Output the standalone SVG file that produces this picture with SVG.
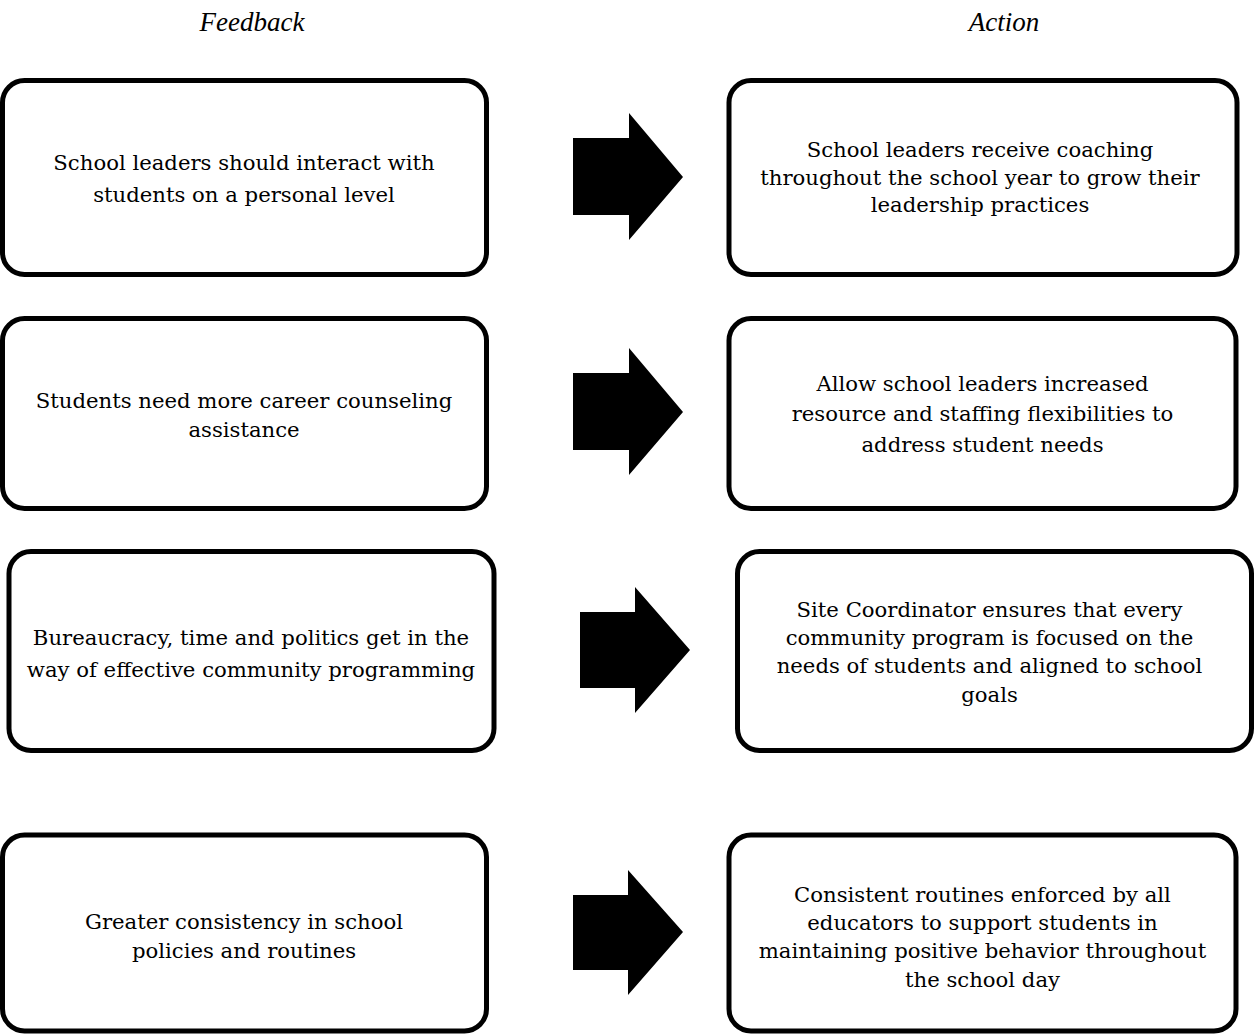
<svg xmlns="http://www.w3.org/2000/svg" width="1257" height="1036" viewBox="0 0 1257 1036">
<style>
.box{fill:#fff;stroke:#000;stroke-width:5}
.t{font-family:"DejaVu Serif","Liberation Serif",serif;font-size:21.2px;fill:#000;text-anchor:middle}
.h{font-family:"Liberation Serif","Times New Roman",serif;font-size:27px;font-style:italic;fill:#000;text-anchor:middle}
.arr{fill:#000}
</style>
<rect width="1257" height="1036" fill="#fff"/>
<g id="headers">
<text class="h" x="252" y="31">Feedback</text>
<text class="h" x="1004" y="31">Action</text>
</g>
<g id="fb1"><rect class="box" x="2.5" y="80.5" width="484" height="194" rx="22"/>
<text class="t" x="244" y="170">School leaders should interact with</text>
<text class="t" x="244" y="201.7">students on a personal level</text></g>
<g id="ac1"><rect class="box" x="729" y="80.5" width="508" height="194" rx="22"/>
<text class="t" x="980" y="157.3">School leaders receive coaching</text>
<text class="t" x="980" y="185">throughout the school year to grow their</text>
<text class="t" x="980" y="212.3">leadership practices</text></g>
<g id="fb2"><rect class="box" x="2.5" y="318.5" width="484" height="190" rx="22"/>
<text class="t" x="244" y="408">Students need more career counseling</text>
<text class="t" x="244" y="436.7">assistance</text></g>
<g id="ac2"><rect class="box" x="729" y="318.5" width="507" height="190" rx="22"/>
<text class="t" x="982.5" y="390.7">Allow school leaders increased</text>
<text class="t" x="982.5" y="420.7">resource and staffing flexibilities to</text>
<text class="t" x="982.5" y="451.7">address student needs</text></g>
<g id="fb3"><rect class="box" x="9" y="551.5" width="485" height="199" rx="22"/>
<text class="t" x="251" y="645">Bureaucracy, time and politics get in the</text>
<text class="t" x="251" y="676.7">way of effective community programming</text></g>
<g id="ac3"><rect class="box" x="737.5" y="551.5" width="514" height="199" rx="22"/>
<text class="t" x="989.5" y="616.7">Site Coordinator ensures that every</text>
<text class="t" x="989.5" y="645">community program is focused on the</text>
<text class="t" x="989.5" y="673.3">needs of students and aligned to school</text>
<text class="t" x="989.5" y="701.7">goals</text></g>
<g id="fb4"><rect class="box" x="2.5" y="835" width="484" height="196" rx="22"/>
<text class="t" x="244" y="929.3">Greater consistency in school</text>
<text class="t" x="244" y="958.3">policies and routines</text></g>
<g id="ac4"><rect class="box" x="729" y="835" width="507" height="196" rx="22"/>
<text class="t" x="982.5" y="901.7">Consistent routines enforced by all</text>
<text class="t" x="982.5" y="930">educators to support students in</text>
<text class="t" x="982.5" y="958.3">maintaining positive behavior throughout</text>
<text class="t" x="982.5" y="986.7">the school day</text></g>
<g id="connectors">
<polygon class="arr" points="573,138 629,138 629,113 683,177 629,240 629,215 573,215"/>
<polygon class="arr" points="573,373 629,373 629,348 683,412 629,475 629,450 573,450"/>
<polygon class="arr" points="580,612 635,612 635,587 690,650 635,713 635,688 580,688"/>
<polygon class="arr" points="573,895 628,895 628,870 683,932 628,995 628,970 573,970"/>
</g>
</svg>
